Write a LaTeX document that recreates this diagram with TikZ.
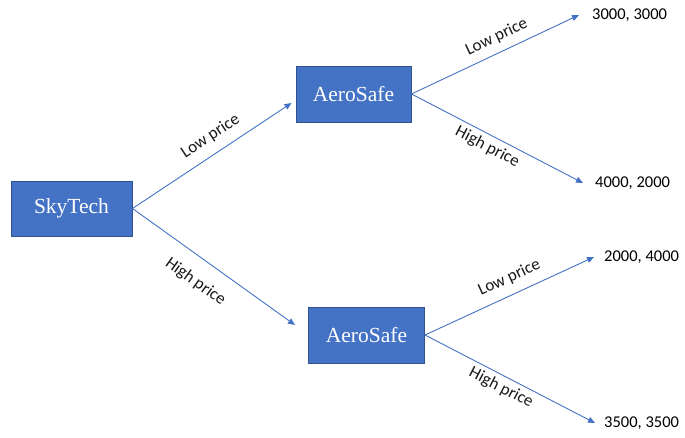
\documentclass[tikz,border=0pt]{standalone}
\usepackage{fontspec}
\setmainfont{Liberation Serif}
\newfontfamily\labfont{Carlito}
\usetikzlibrary{arrows.meta}
\definecolor{boxblue}{HTML}{4472C4}
\definecolor{boxedge}{HTML}{2F528F}
\begin{document}
\begin{tikzpicture}[x=1pt,y=-1pt,
 player/.style={draw=boxedge, line width=1pt, fill=boxblue, text=white, font=\fontsize{21.5}{24}\selectfont, inner sep=0pt},
 payoff/.style={font=\labfont\fontsize{16.5}{19}\selectfont, anchor=west, inner sep=0pt},
 move/.style={draw=boxblue, line width=0.9pt, -{Triangle[length=7pt,width=6pt]}},
 lab/.style={font=\labfont\fontsize{17}{20}\selectfont, text=black!90, sloped, inner xsep=0pt}]
\useasboundingbox (0,0) rectangle (685,437);
\node[player, minimum width=121pt, minimum height=55pt] (S) at (71.5,208.5) {SkyTech};
\node[player, minimum width=115pt, minimum height=56pt] (A1) at (353.5,94) {AeroSafe};
\node[player, minimum width=116pt, minimum height=56pt] (A2) at (366.5,335) {AeroSafe};
\node[payoff] (p1) at (592,15) {3000, 3000};
\node[payoff] (p2) at (595,183) {4000, 2000};
\node[payoff] (p3) at (604,257) {2000, 4000};
\node[payoff] (p4) at (604,423) {3500, 3500};
\draw[move] (S.east) -- node[lab, pos=0.55, above, inner ysep=9.4pt] {Low price} ([xshift=-4pt,yshift=-9pt]A1.west);
\draw[move] (S.east) -- node[lab, pos=0.47, below, inner ysep=15.2pt] {High price} ([xshift=-13pt,yshift=10pt]A2.west);
\draw[move] (A1.east) -- node[lab, pos=0.547, above, inner ysep=7.5pt] {Low price} ([xshift=-13pt]p1.west);
\draw[move] (A1.east) -- node[lab, pos=0.475, below, inner ysep=4.3pt] {High price} ([xshift=-12pt]p2.west);
\draw[move] (A2.east) -- node[lab, pos=0.54, above, inner ysep=8.8pt] {Low price} ([xshift=-10pt]p3.west);
\draw[move] (A2.east) -- node[lab, pos=0.48, below, inner ysep=4.2pt] {High price} ([xshift=-9pt]p4.west);
\end{tikzpicture}
\end{document}
